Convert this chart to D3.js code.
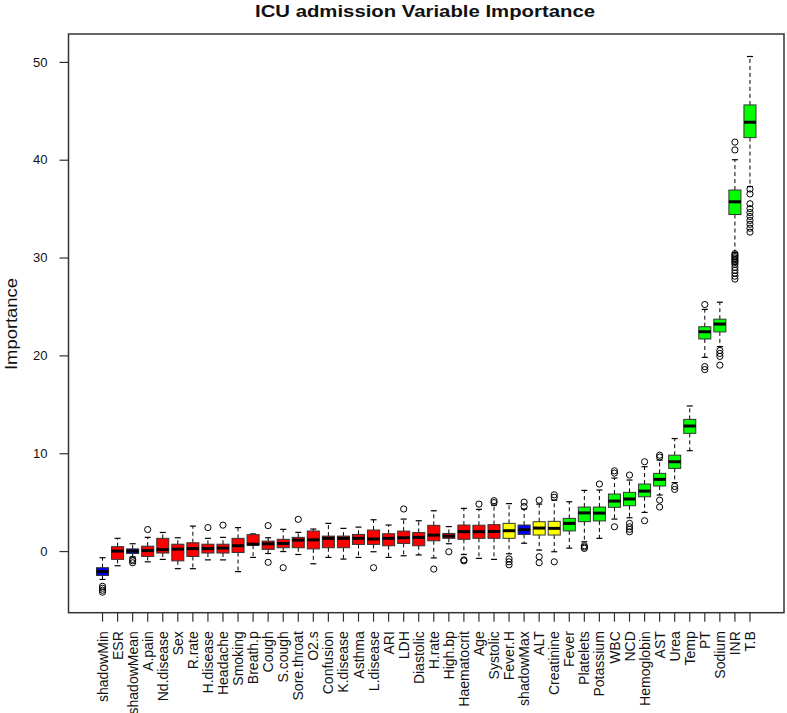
<!DOCTYPE html>
<html>
<head>
<meta charset="utf-8">
<script src="https://cdn.jsdelivr.net/npm/d3@7"></script>
<style>
  body { margin: 0; background: #fff; }
  svg { display: block; font-family: Arial, "Liberation Sans", sans-serif; }
</style>
</head>
<body>
<div id="chart"></div>
<script>
// variables in plotting order (sorted by median importance)
const names = ["shadowMin", "ESR", "shadowMean", "A.pain", "Nd.disease", "Sex", "R.rate", "H.disease",
  "Headache", "Smoking", "Breath.p", "Cough", "S.cough", "Sore.throat", "O2.s", "Confusion",
  "K.disease", "Asthma", "L.disease", "ARI", "LDH", "Diastolic", "H.rate", "High.bp", "Haematocrit",
  "Age", "Systolic", "Fever.H", "shadowMax", "ALT", "Creatinine", "Fever", "Platelets", "Potassium",
  "WBC", "NCD", "Hemoglobin", "AST", "Urea", "Temp", "PT", "Sodium", "INR", "T.B"];

// Boruta decision per variable
const decisions = ["Shadow", "Rejected", "Shadow", "Rejected", "Rejected", "Rejected", "Rejected", "Rejected",
  "Rejected", "Rejected", "Rejected", "Rejected", "Rejected", "Rejected", "Rejected", "Rejected",
  "Rejected", "Rejected", "Rejected", "Rejected", "Rejected", "Rejected", "Rejected", "Rejected", "Rejected",
  "Rejected", "Rejected", "Tentative", "Shadow", "Tentative", "Tentative", "Confirmed", "Confirmed", "Confirmed",
  "Confirmed", "Confirmed", "Confirmed", "Confirmed", "Confirmed", "Confirmed", "Confirmed", "Confirmed", "Confirmed", "Confirmed"];

// box statistics
const lowerWhisker = [-2.9, -1.5, -0.6, -1.1, -0.85, -1.8, -1.8, -0.9, -0.9, -2.1, -0.65, -0.25, -0.05, -0.35,
  -1.3, -0.65, -0.82, -0.65, -0.07, -0.65, -0.48, -0.4, -0.7, 0.75, -0.35, -0.75, -0.85, -0.28, 0.8, 0.1, -0.07,
  0.3, 0.95, 1.3, 3.27, 3.4, 3.95, 5.73, 7.0, 10.26, 19.8, 20.9, 30.5, 37.25];
const q1 = [-2.5, -0.85, -0.25, -0.55, -0.2, -1.0, -0.55, -0.2, -0.2, -0.15, 0.6, 0.17, 0.34, 0.34,
  0.22, 0.34, 0.34, 0.68, 0.68, 0.54, 0.78, 0.54, 1.05, 1.3, 1.2, 1.3, 1.3, 1.3, 1.7, 1.64, 1.64,
  2.06, 3.0, 3.08, 4.47, 4.63, 5.55, 6.65, 8.45, 12.03, 21.68, 22.4, 34.4, 42.26];
const medians = [-2.1, 0.0, 0.0, 0.05, 0.15, 0.2, 0.25, 0.25, 0.3, 0.55, 0.7, 0.74, 0.78, 1.12,
  1.15, 1.3, 1.3, 1.3, 1.23, 1.3, 1.36, 1.4, 1.63, 1.53, 1.98, 1.98, 2.0, 2.08, 2.18, 2.35, 2.32,
  2.83, 3.9, 3.88, 5.11, 5.32, 6.13, 7.33, 9.13, 12.78, 22.42, 23.2, 35.7, 43.83];
const q3 = [-1.7, 0.45, 0.22, 0.5, 1.3, 0.7, 0.85, 0.7, 0.7, 1.3, 1.68, 1.02, 1.2, 1.4,
  2.05, 1.53, 1.53, 1.7, 2.15, 1.77, 2.04, 1.9, 2.63, 1.8, 2.66, 2.64, 2.7, 2.83, 2.66, 3.0, 3.04,
  3.34, 4.5, 4.5, 5.83, 6.0, 6.85, 7.94, 9.8, 13.46, 22.93, 23.7, 36.9, 45.6];
const upperWhisker = [-0.68, 1.3, 0.75, 1.4, 1.9, 1.36, 2.55, 1.3, 1.4, 2.4, 1.75, 1.36, 2.22, 1.91,
  2.25, 2.83, 2.32, 2.45, 3.2, 2.66, 3.27, 3.1, 4.12, 2.5, 4.36, 4.26, 4.7, 4.85, 4.3, 4.8, 5.2,
  5.04, 6.2, 6.24, 7.46, 7.26, 8.62, 9.3, 11.5, 14.83, 24.7, 25.43, 40.0, 50.55];
const outliers = [
  [-3.6, -3.8, -4.0, -4.2], [], [-0.85, -1.0, -1.2], [2.2], [], [], [], [2.4],
  [2.65], [], [], [2.6, -1.15], [-1.7], [3.24],
  [], [], [], [], [-1.7], [], [4.3], [], [-1.84], [-0.07], [-0.9, -1.0],
  [4.8], [4.95, 5.15], [-0.8, -1.1, -1.4], [4.55, 5.0], [5.2, -0.58, -1.19], [5.5, 5.75, -1.1],
  [], [0.54, 0.4, 0.27], [6.85], [7.97, 8.2, 2.48], [7.77, 2.83, 2.48, 2.22, 1.97], [9.13, 3.1],
  [9.6, 9.8, 5.2, 4.5], [6.6, 6.3], [], [25.2, 18.85, 18.55], [20.5, 20.2, 19.9, 19.0],
  [41.0, 41.8, 30.4, 30.25, 30.1, 29.95, 29.8, 29.65, 29.5, 29.3, 29.0, 28.7, 28.4, 28.1, 27.8],
  [37.0, 36.5, 35.5, 35.0, 34.6, 34.2, 33.8, 33.4, 33.0, 32.6]
];

const decisionColors = { Shadow: "#0000ff", Rejected: "#ff0000", Tentative: "#ffff00", Confirmed: "#00ff00" };
const yTickValues = [0, 10, 20, 30, 40, 50];

function drawChart() {
  const width = 787, height = 713;
  const plot = { left: 68.5, right: 784, top: 34, bottom: 612.7 };

  const svg = d3.select("#chart").append("svg")
    .attr("width", width)
    .attr("height", height);

  // R-style x range: positions 1..n, padded like plot.window
  const n = names.length;
  const pad = n * 0.04;
  const xIdx = d3.scaleLinear()
    .domain([0.5 - pad, n + 0.5 + pad])
    .range([plot.left, plot.right]);

  const x = d3.scaleBand()
    .domain(names)
    .range([xIdx(0.5), xIdx(n + 0.5)])
    .paddingInner(0.2)
    .paddingOuter(0.1);

  const y = d3.scaleLinear()
    .domain([-6.3, 52.85])
    .range([plot.bottom, plot.top]);

  const rows = names.map((name, i) => ({
    name: name,
    decision: decisions[i],
    lw: lowerWhisker[i], q1: q1[i], med: medians[i], q3: q3[i], uw: upperWhisker[i],
    out: outliers[i]
  }));

  const bw = x.bandwidth();
  const boxes = svg.append("g").selectAll("g")
    .data(rows)
    .enter()
    .append("g")
    .attr("transform", d => `translate(${x(d.name)},0)`);

  // dashed whiskers
  boxes.append("line")
    .attr("x1", bw / 2).attr("x2", bw / 2)
    .attr("y1", d => y(d.q3)).attr("y2", d => y(d.uw))
    .attr("stroke", "#000").attr("stroke-width", 1)
    .attr("stroke-dasharray", "4,3");
  boxes.append("line")
    .attr("x1", bw / 2).attr("x2", bw / 2)
    .attr("y1", d => y(d.q1)).attr("y2", d => y(d.lw))
    .attr("stroke", "#000").attr("stroke-width", 1)
    .attr("stroke-dasharray", "4,3");

  // staples
  boxes.selectAll(".staple")
    .data(d => [d.lw, d.uw])
    .enter()
    .append("line")
    .attr("class", "staple")
    .attr("x1", bw / 4).attr("x2", bw * 3 / 4)
    .attr("y1", v => y(v)).attr("y2", v => y(v))
    .attr("stroke", "#000").attr("stroke-width", 1.2);

  // boxes
  boxes.append("rect")
    .attr("x", 0)
    .attr("width", bw)
    .attr("y", d => y(d.q3))
    .attr("height", d => y(d.q1) - y(d.q3))
    .attr("fill", d => decisionColors[d.decision])
    .attr("stroke", "#333")
    .attr("stroke-width", 1);

  // medians
  boxes.append("line")
    .attr("x1", 0).attr("x2", bw)
    .attr("y1", d => y(d.med)).attr("y2", d => y(d.med))
    .attr("stroke", "#000").attr("stroke-width", 3);

  // outliers
  boxes.selectAll(".out")
    .data(d => d.out)
    .enter()
    .append("circle")
    .attr("class", "out")
    .attr("cx", bw / 2)
    .attr("cy", v => y(v))
    .attr("r", 3.1)
    .attr("fill", "none")
    .attr("stroke", "#000")
    .attr("stroke-width", 1);

  // y axis
  const yAxis = svg.append("g")
    .attr("transform", `translate(${plot.left},0)`)
    .call(d3.axisLeft(y).tickValues(yTickValues).tickSize(9).tickPadding(12));
  yAxis.select(".domain").remove();
  yAxis.selectAll("line").attr("stroke", "#333").attr("stroke-width", 1.2);
  yAxis.selectAll("text")
    .attr("fill", "#111")
    .style("font-size", "13px")
    .style("font-family", "Arial, 'Liberation Sans', sans-serif");

  // x axis with vertical labels
  const xAxis = svg.append("g")
    .attr("transform", `translate(0,${plot.bottom})`)
    .call(d3.axisBottom(x).tickSize(9));
  xAxis.select(".domain").remove();
  xAxis.selectAll("line").attr("stroke", "#333").attr("stroke-width", 1.2);
  xAxis.selectAll("text")
    .attr("transform", "rotate(-90)")
    .attr("x", -18.5)
    .attr("y", 0)
    .attr("dy", "0.36em")
    .attr("text-anchor", "end")
    .attr("fill", "#111")
    .style("font-size", "14px")
    .style("font-family", "Arial, 'Liberation Sans', sans-serif");

  // plot frame
  svg.append("rect")
    .attr("x", plot.left)
    .attr("y", plot.top)
    .attr("width", plot.right - plot.left)
    .attr("height", plot.bottom - plot.top)
    .attr("fill", "none")
    .attr("stroke", "#333")
    .attr("stroke-width", 1.5);

  // title
  svg.append("text")
    .attr("x", 425)
    .attr("y", 16.5)
    .attr("text-anchor", "middle")
    .attr("font-weight", "bold")
    .attr("font-size", "17px")
    .attr("fill", "#111")
    .attr("textLength", 340)
    .attr("lengthAdjust", "spacingAndGlyphs")
    .text("ICU admission Variable Importance");

  // y label
  svg.append("text")
    .attr("transform", "translate(17,324) rotate(-90)")
    .attr("text-anchor", "middle")
    .attr("font-size", "16px")
    .attr("fill", "#111")
    .attr("textLength", 92)
    .attr("lengthAdjust", "spacingAndGlyphs")
    .text("Importance");
}

document.addEventListener("DOMContentLoaded", drawChart);
</script>
</body>
</html>
